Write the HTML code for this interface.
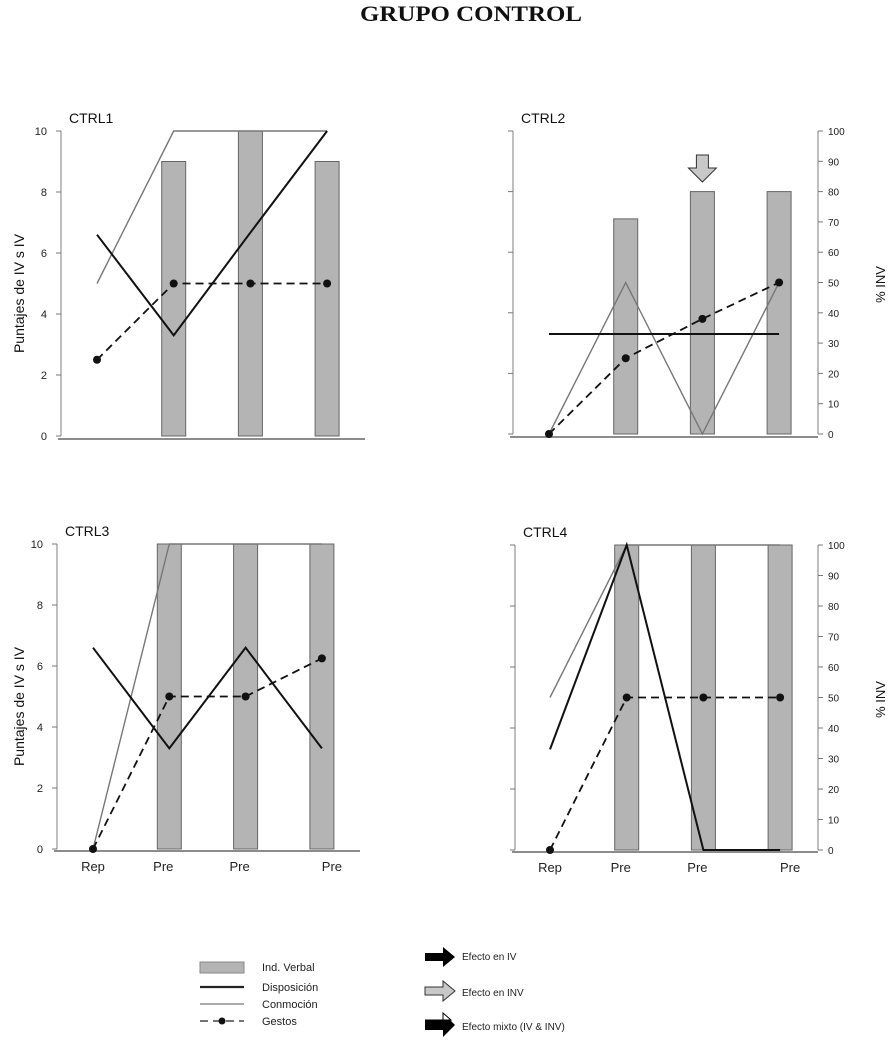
<!DOCTYPE html>
<html><head><meta charset="utf-8"><style>
html,body{margin:0;padding:0;background:#fff;}
svg{display:block;font-family:"Liberation Sans",sans-serif;}
</style></head><body>
<svg id="chart" width="892" height="1049" viewBox="0 0 892 1049" xmlns="http://www.w3.org/2000/svg">
<text x="471" y="21" text-anchor="middle" font-family="Liberation Serif, serif" font-weight="bold" font-size="22" textLength="222" lengthAdjust="spacingAndGlyphs" fill="#111">GRUPO CONTROL</text>
<g id="panels"></g>
<g>
  <rect x="200" y="962" width="44" height="11" fill="#b4b4b4" stroke="#888"/>
  <text x="262" y="971" font-size="11" fill="#222">Ind. Verbal</text>
  <line x1="200" y1="987" x2="244" y2="987" stroke="#222" stroke-width="2.2"/>
  <text x="262" y="991" font-size="11" fill="#222">Disposición</text>
  <line x1="200" y1="1004" x2="244" y2="1004" stroke="#777" stroke-width="1.2"/>
  <text x="262" y="1008" font-size="11" fill="#222">Conmoción</text>
  <line x1="200" y1="1021" x2="244" y2="1021" stroke="#222" stroke-width="1.3" stroke-dasharray="8,5"/>
  <circle cx="222" cy="1021" r="3.5" fill="#111"/>
  <text x="262" y="1025" font-size="11" fill="#222">Gestos</text>
  <path d="M425,953 h18 v-6 l12,10 l-12,10 v-6 h-18 z" fill="#000"/>
  <text x="462" y="960" font-size="10" fill="#222">Efecto en IV</text>
  <path d="M425,987 h18 v-6 l12,10 l-12,10 v-6 h-18 z" fill="#c8c8c8" stroke="#333"/>
  <text x="462" y="996" font-size="10" fill="#222">Efecto en INV</text>
  <path d="M425,1020 h18 v-7 l12,12 l-12,12 v-7 h-18 z" fill="#000"/>
  <path d="M425,1020 h18 v-7 l8,7 z" fill="#fff" stroke="#000"/>
  <text x="462" y="1030" font-size="10" fill="#222">Efecto mixto (IV &amp; INV)</text>
</g>
</svg>
<script>
const panelNames = ["CTRL1","CTRL2","CTRL3","CTRL4"];
const barValues = [[null,9,10,9],[null,7.1,8,8],[null,10,10,10],[null,10,10,10]];
const disposicion = [[6.6,3.3,6.67,10],[3.3,3.3,3.3,3.3],[6.6,3.3,6.6,3.3],[3.3,10,0,0]];
const conmocion = [[5,10,10,10],[0,5,0,5],[0,10,10,10],[5,10,10,10]];
const gestos = [[2.5,5,5,5],[0,2.5,3.8,5],[0,5,5,6.25],[0,5,5,5]];
const leftTicks = ["0","2","4","6","8","10"];
const rightTicks = ["0","10","20","30","40","50","60","70","80","90","100"];
const xLabels = ["Rep","Pre","Pre","Pre"];

const NS="http://www.w3.org/2000/svg";
const G=document.getElementById('panels');
function mk(tag,attrs,parent){const e=document.createElementNS(NS,tag);for(const k in attrs)e.setAttribute(k,attrs[k]);(parent||G).appendChild(e);return e;}
const layout=[
 {ax:61,x0:97,dx:76.7,y10:131,y0:436,right:false,leftLabels:true,xl:false,bottom:439,bx1:58,bx2:365},
 {ax:513,x0:549,dx:76.7,y10:131,y0:434,right:true,leftLabels:false,xl:false,bottom:437,bx1:510,bx2:818},
 {ax:57,x0:93,dx:76.3,y10:544,y0:849,right:false,leftLabels:true,xl:true,bottom:851,bx1:54,bx2:360},
 {ax:515,x0:550,dx:76.7,y10:545,y0:850,right:true,leftLabels:false,xl:true,bottom:852,bx1:512,bx2:818}
];
layout.forEach((L,p)=>{
  const g=mk('g',{});
  
  
  const X=i=>L.x0+i*L.dx;
  const Y=v=>L.y0-(v/10)*(L.y0-L.y10);
  const t=mk('text',{x:L.ax+8,y:L.y10-8,'font-size':14,fill:'#111'},g);t.textContent=panelNames[p];
  
  
  const la=mk('line',{x1:L.ax,y1:L.y10,x2:L.ax,y2:L.y0,stroke:'#aaa','stroke-width':1.5},g);
  
  
  leftTicks.forEach((lab,i)=>{
    const y=Y(+lab);
    const tk=mk('line',{x1:L.ax-5,y1:y,x2:L.ax,y2:y,stroke:'#777'},g);
    
    
    if(L.leftLabels){const tx=mk('text',{x:L.ax-14,y:y+4,'font-size':11,'text-anchor':'end',fill:'#222'},g);tx.textContent=lab;
      
      }
  });
  if(L.leftLabels){const yt=mk('text',{transform:`translate(24,${(L.y10+L.y0)/2+10}) rotate(-90)`,'text-anchor':'middle','font-size':14,fill:'#111'},g);
    yt.textContent='Puntajes de IV     s IV';
    
    }
  const ba=mk('line',{x1:L.bx1,y1:L.bottom,x2:L.bx2,y2:L.bottom,stroke:'#666','stroke-width':1.5},g);
  
  
  if(L.right){
    const rx=818;
    const ra=mk('line',{x1:rx,y1:L.y10,x2:rx,y2:L.y0,stroke:'#aaa','stroke-width':1.5},g);
    
    
    rightTicks.forEach(lab=>{const y=Y(+lab/10);
      const tk=mk('line',{x1:rx,y1:y,x2:rx+5,y2:y,stroke:'#777'},g);
      
      
      const tx=mk('text',{x:rx+10,y:y+4,'font-size':10,fill:'#222'},g);tx.textContent=lab;
      
      });
    const rt=mk('text',{transform:`translate(885,${(L.y10+L.y0)/2+2}) rotate(-90)`,'text-anchor':'middle','font-size':13,fill:'#111'},g);
    rt.textContent='% INV';
    
    
  }
  barValues[p].forEach((v,i)=>{ if(v===null)return;
    const r=mk('rect',{x:X(i)-12,y:Y(v),width:24,height:L.y0-Y(v),fill:'#b4b4b4',stroke:'#666','stroke-width':1},g);
    
    
  });
  const pts=a=>a.map((v,i)=>X(i)+','+Y(v)).join(' ');
  const c=mk('polyline',{points:pts(conmocion[p]),fill:'none',stroke:'#777','stroke-width':1.4},g);
  
  
  const d=mk('polyline',{points:pts(disposicion[p]),fill:'none',stroke:'#111','stroke-width':2},g);
  
  
  const ge=mk('polyline',{points:pts(gestos[p]),fill:'none',stroke:'#111','stroke-width':1.8,'stroke-dasharray':'8,5'},g);
  
  
  gestos[p].forEach((v,i)=>{const m=mk('circle',{cx:X(i),cy:Y(v),r:4,fill:'#111'},g);
    
    });
  if(L.xl){xLabels.forEach((lab,i)=>{const tx=mk('text',{x:X(i)+(i===0?0:(i===3?10:-6)),y:L.bottom+20,'font-size':13,'text-anchor':'middle',fill:'#222'},g);tx.textContent=lab;
    
    });}
  if(p===1){const x=X(2);
    const a=mk('path',{d:`M${x-6},155 h12 v13 h8 l-14,14 l-14,-14 h8 z`,fill:'#c8c8c8',stroke:'#333','stroke-width':1},g);
    
    }
});
</script>
</body></html>
